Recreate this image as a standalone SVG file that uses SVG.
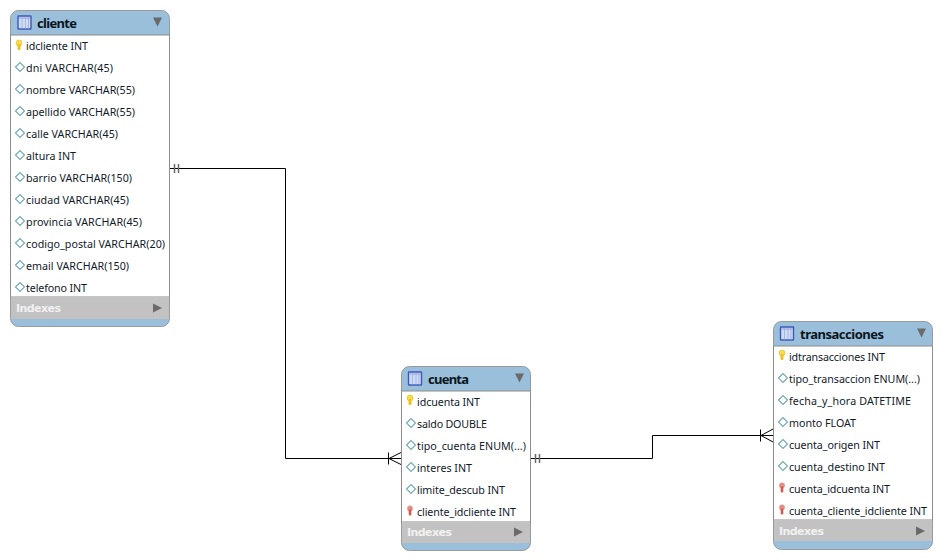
<svg xmlns="http://www.w3.org/2000/svg" width="942" height="560" viewBox="0 0 942 560">
<style>
.t{font:10.700px "Noto Sans","Liberation Sans",sans-serif;fill:#111a2a}
.h{font:bold 13px "Noto Sans","Liberation Sans",sans-serif;fill:#0c1420}
.i{font:bold 11px "DejaVu Sans","Liberation Sans",sans-serif;fill:#f1f1f1}
.b{fill:#fff;stroke:#8c8c8c;stroke-width:1}
.c{fill:none;stroke:#000;stroke-width:1}
.g{fill:none;stroke:#6a6a6a;stroke-width:1.500}
</style>
<defs>
<g id="key"><circle cx="0" cy="-2" r="3" fill="#f5dc55" stroke="#e6bd1c" stroke-width=".6"/><rect x="-1.500" y="-1" width="3" height="6" rx="1.200" fill="#eec21a"/></g>
<g id="fk"><circle cx="0" cy="-1.500" r="2.700" fill="#e88a80" stroke="#d4a49c" stroke-width=".6"/><rect x="-1.300" y="-.500" width="2.600" height="6" rx="1" fill="#d9574a"/></g>
<path id="dia" d="M-4.500 0L0-4.500L4.500 0L0 4.500Z" fill="#fff" stroke="#6fa8b8" stroke-width="1.100"/>
<g id="tbl"><rect x="-6.500" y="-6.500" width="13" height="13" rx=".5" fill="#cfdcf3" stroke="#3f58b8" stroke-width="1.400"/><path d="M-2.500 -5V6M1 -5V6M4 -5V6" stroke="#a7b7e2" stroke-width="1"/><path d="M-5.500 -4.500H5.500" stroke="#8fa2d8" stroke-width="1"/></g>
<path id="tri" d="M-4-4.500H5L.5 4.500Z" fill="#6a6a6a"/>
<path id="tr" d="M-4-4.500L5 0L-4 4.500Z" fill="#6a6a6a"/>
</defs>
<g id="connectors">
<path class="c" d="M170 168.500H285.500V458.500H402"/>
<path class="g" d="M174.500 164V173M178.500 164V173"/>
<path class="c" d="M388.500 452.500V464.500M389 458.500L402 452M389 458.500L402 465"/>
<path class="c" d="M531 458.500H652.500V435.500H773"/>
<path class="g" d="M535.500 454V463M539.500 454V463"/>
<path class="c" d="M760.500 429.500V441.500M761 435.500L773 429M761 435.500L773 442"/>
</g>
<g id="cliente">
<rect x="10.500" y="10.500" width="159" height="316" rx="8" fill="#99bfda" stroke="#9a9a9a"/>
<rect class="b" x="10.500" y="35" width="159" height="262"/>
<rect x="11" y="297" width="158" height="22" fill="#c2c2c2"/>
<use href="#tbl" x="24.500" y="22.500"/><text class="h" x="37" y="28" textLength="40">cliente</text><use href="#tri" x="157" y="22"/>
<use href="#key" x="19" y="45"/><text class="t" x="26" y="50" textLength="62">idcliente INT</text>
<use href="#dia" x="20" y="67"/><text class="t" x="26" y="72" textLength="87">dni VARCHAR(45)</text>
<use href="#dia" x="20" y="89"/><text class="t" x="26" y="94" textLength="109">nombre VARCHAR(55)</text>
<use href="#dia" x="20" y="111"/><text class="t" x="26" y="116" textLength="109">apellido VARCHAR(55)</text>
<use href="#dia" x="20" y="133"/><text class="t" x="26" y="138" textLength="92">calle VARCHAR(45)</text>
<use href="#dia" x="20" y="155"/><text class="t" x="26" y="160" textLength="50">altura INT</text>
<use href="#dia" x="20" y="177"/><text class="t" x="26" y="182" textLength="106">barrio VARCHAR(150)</text>
<use href="#dia" x="20" y="199"/><text class="t" x="26" y="204" textLength="103">ciudad VARCHAR(45)</text>
<use href="#dia" x="20" y="221"/><text class="t" x="26" y="226" textLength="116">provincia VARCHAR(45)</text>
<use href="#dia" x="20" y="243"/><text class="t" x="26" y="248" textLength="139">codigo_postal VARCHAR(20)</text>
<use href="#dia" x="20" y="265"/><text class="t" x="26" y="270" textLength="103">email VARCHAR(150)</text>
<use href="#dia" x="20" y="287"/><text class="t" x="26" y="292" textLength="61">telefono INT</text>
<text class="i" x="16" y="312" textLength="45">Indexes</text><use href="#tr" x="157" y="308"/>
</g>
<g id="cuenta">
<rect x="401.500" y="366.500" width="129" height="184" rx="8" fill="#99bfda" stroke="#9a9a9a"/>
<rect class="b" x="401.500" y="391" width="129" height="131"/>
<rect x="402" y="522" width="128" height="21" fill="#c2c2c2"/>
<use href="#tbl" x="415" y="378.500"/><text class="h" x="428" y="384" textLength="41">cuenta</text><use href="#tri" x="519" y="378"/>
<use href="#key" x="410" y="400"/><text class="t" x="417" y="406" textLength="63">idcuenta INT</text>
<use href="#dia" x="411" y="423"/><text class="t" x="417" y="428" textLength="70">saldo DOUBLE</text>
<use href="#dia" x="411" y="445"/><text class="t" x="417" y="450" textLength="109">tipo_cuenta ENUM(...)</text>
<use href="#dia" x="411" y="467"/><text class="t" x="417" y="472" textLength="55">interes INT</text>
<use href="#dia" x="411" y="489"/><text class="t" x="417" y="494" textLength="88">limite_descub INT</text>
<use href="#fk" x="410" y="510"/><text class="t" x="417" y="516" textLength="99">cliente_idcliente INT</text>
<text class="i" x="407" y="536" textLength="45">Indexes</text><use href="#tr" x="518" y="532"/>
</g>
<g id="transacciones">
<rect x="773.500" y="321.500" width="159" height="228" rx="8" fill="#99bfda" stroke="#9a9a9a"/>
<rect class="b" x="773.500" y="346" width="159" height="174"/>
<rect x="774" y="520" width="158" height="21" fill="#c2c2c2"/>
<use href="#tbl" x="787" y="333.500"/><text class="h" x="800" y="339" textLength="84">transacciones</text><use href="#tri" x="921" y="333"/>
<use href="#key" x="782" y="355"/><text class="t" x="789" y="361" textLength="96">idtransacciones INT</text>
<use href="#dia" x="783" y="378"/><text class="t" x="789" y="383" textLength="131">tipo_transaccion ENUM(...)</text>
<use href="#dia" x="783" y="400"/><text class="t" x="789" y="405" textLength="122">fecha_y_hora DATETIME</text>
<use href="#dia" x="783" y="422"/><text class="t" x="789" y="427" textLength="67">monto FLOAT</text>
<use href="#dia" x="783" y="444"/><text class="t" x="789" y="449" textLength="91">cuenta_origen INT</text>
<use href="#dia" x="783" y="466"/><text class="t" x="789" y="471" textLength="96">cuenta_destino INT</text>
<use href="#fk" x="782" y="487"/><text class="t" x="789" y="493" textLength="101">cuenta_idcuenta INT</text>
<use href="#fk" x="782" y="509"/><text class="t" x="789" y="515" textLength="138">cuenta_cliente_idcliente INT</text>
<text class="i" x="779" y="535" textLength="45">Indexes</text><use href="#tr" x="920" y="531"/>
</g>
</svg>
